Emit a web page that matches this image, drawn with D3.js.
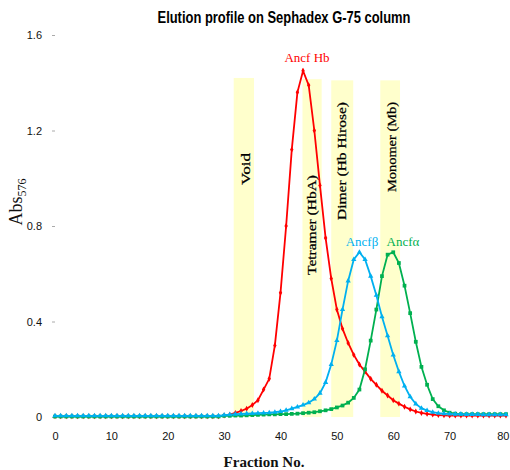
<!DOCTYPE html>
<html>
<head>
<meta charset="UTF-8">
<style>
  body { margin: 0; background: #fff; }
  svg { display: block; }
  .tick text { font-family: "Liberation Sans Narrow", "Liberation Sans", sans-serif; font-size: 11px; fill: #111; }
</style>
</head>
<body>
<div id="chart"></div>
<script src="https://cdn.jsdelivr.net/npm/d3@7"></script>
<script>
// fraction numbers (x)
var fractions = [0,1,2,3,4,5,6,7,8,9,10,11,12,13,14,15,16,17,18,19,20,21,22,23,24,25,26,27,28,29,
  30,31,32,33,34,35,36,37,38,39,40,41,42,43,44,45,46,47,48,49,50,51,52,53,54,55,56,57,58,59,
  60,61,62,63,64,65,66,67,68,69,70,71,72,73,74,75,76,77,78,79,80];

// Ancf Hb (red)
var ancfHb = [0.003,0.003,0.003,0.003,0.003,0.003,0.003,0.003,0.003,0.003,0.003,0.003,0.003,0.003,0.003,
  0.003,0.003,0.003,0.003,0.003,0.003,0.003,0.003,0.003,0.003,0.003,0.003,0.003,0.003,0.003,
  0.006,0.01,0.017,0.025,0.035,0.05,0.07,0.115,0.16,0.3,0.52,0.8,1.12,1.36,1.45,1.39,1.2,0.97,0.75,0.58,
  0.45,0.37,0.31,0.26,0.22,0.19,0.16,0.135,0.11,0.09,0.07,0.056,0.043,0.032,0.023,0.017,0.013,0.01,0.008,0.007,
  0.006,0.006,0.006,0.006,0.006,0.006,0.006,0.006,0.006,0.006,0.006];

// Ancf beta (blue)
var ancfBeta = [0.005,0.005,0.005,0.005,0.005,0.005,0.005,0.005,0.005,0.005,0.005,0.005,0.005,0.005,0.005,
  0.005,0.005,0.005,0.005,0.005,0.005,0.005,0.005,0.005,0.005,0.005,0.005,0.005,0.005,0.005,
  0.008,0.01,0.012,0.013,0.014,0.015,0.016,0.017,0.018,0.02,0.023,0.028,0.035,0.042,0.05,0.06,0.075,0.1,0.145,0.22,
  0.32,0.45,0.57,0.66,0.69,0.66,0.59,0.51,0.42,0.34,0.26,0.19,0.13,0.085,0.055,0.037,0.027,0.02,0.016,0.014,
  0.013,0.012,0.012,0.011,0.011,0.011,0.01,0.01,0.01,0.01,0.01];

// Ancf alpha (green)
var ancfAlpha = [0.002,0.002,0.002,0.002,0.002,0.002,0.002,0.002,0.002,0.002,0.002,0.002,0.002,0.002,0.002,
  0.002,0.002,0.002,0.002,0.002,0.002,0.002,0.002,0.002,0.002,0.002,0.002,0.002,0.002,0.002,
  0.005,0.005,0.006,0.006,0.007,0.008,0.009,0.01,0.011,0.011,0.012,0.012,0.013,0.014,0.016,0.018,0.02,0.024,0.028,0.033,
  0.04,0.048,0.06,0.08,0.115,0.2,0.32,0.45,0.59,0.68,0.69,0.645,0.55,0.435,0.315,0.21,0.135,0.075,0.045,0.028,
  0.018,0.014,0.012,0.012,0.012,0.012,0.012,0.012,0.012,0.012,0.012];

// shaded fraction ranges
var bandNames = ["Void", "Tetramer (HbA)", "Dimer (Hb Hirose)", "Monomer (Mb)"];
var bandStart = [31.7, 43.9, 49.0, 57.7];
var bandEnd = [35.3, 47.3, 52.9, 61.2];
var bandTop = [1.42, 1.415, 1.41, 1.41];

var xTicks = [0,10,20,30,40,50,60,70,80];
var yTicks = [0,0.4,0.8,1.2,1.6];

var width = 510, height = 470;

var svg = d3.select("#chart").append("svg")
  .attr("width", width)
  .attr("height", height);

var x = d3.scaleLinear().domain([0, 80]).range([55, 506]);
var y = d3.scaleLinear().domain([0, 1.6]).range([417, 35]);

// bands
var bands = bandNames.map(function(n, i) {
  return { name: n, x0: bandStart[i], x1: bandEnd[i], top: bandTop[i] };
});

svg.append("g").selectAll("rect")
  .data(bands)
  .enter().append("rect")
  .attr("x", d => x(d.x0))
  .attr("width", d => x(d.x1) - x(d.x0))
  .attr("y", d => y(d.top))
  .attr("height", d => y(0) - y(d.top))
  .attr("fill", "#ffffcc");

// band labels, rotated
var bandLabelPos = [[245, 169, 32], [311, 225, 100], [341, 161, 118], [391, 147, 90]];
svg.append("g").selectAll("text")
  .data(bands)
  .enter().append("text")
  .attr("transform", (d, i) => "translate(" + bandLabelPos[i][0] + "," + bandLabelPos[i][1] + ") rotate(-90)")
  .attr("text-anchor", "middle")
  .attr("dy", "0.35em")
  .attr("textLength", (d, i) => bandLabelPos[i][2])
  .attr("lengthAdjust", "spacingAndGlyphs")
  .style("font-family", "'Liberation Serif', 'DejaVu Serif', serif")
  .style("font-size", "13px")
  .style("fill", "#000")
  .style("stroke", "#000")
  .style("stroke-width", 0.25)
  .text(d => d.name);

// axes
var xAxis = svg.append("g")
  .attr("transform", "translate(0," + 420 + ")")
  .call(d3.axisBottom(x).tickValues(xTicks).tickSize(0).tickPadding(12).tickFormat(d3.format("d")));
xAxis.select(".domain").remove();
xAxis.selectAll(".tick text").filter(d => d === 80)
  .attr("text-anchor", "end").attr("dx", 3);

var yAxis = svg.append("g")
  .attr("transform", "translate(" + 55 + ",0)")
  .call(d3.axisLeft(y).tickValues(yTicks).tickSize(3).tickPadding(10).tickFormat(d => d === 0 ? "0" : d3.format(".1f")(d)));
yAxis.select(".domain").remove();
yAxis.selectAll(".tick line").attr("stroke", "#aaa");

// series
var series = [
  { name: "Ancf Hb", values: ancfHb, color: "#ff0000", symbol: d3.symbolDiamond, size: 10 },
  { name: "Ancf\u03b2", values: ancfBeta, color: "#00b0f0", symbol: d3.symbolTriangle, size: 12 },
  { name: "Ancf\u03b1", values: ancfAlpha, color: "#00b050", symbol: d3.symbolSquare, size: 14 }
];
var drawOrder = [series[0], series[2], series[1]];

var line = d3.line()
  .x((d, i) => x(fractions[i]))
  .y(d => y(d));

drawOrder.forEach(function(s) {
  svg.append("path")
    .datum(s.values)
    .attr("fill", "none")
    .attr("stroke", s.color)
    .attr("stroke-width", 1.8)
    .attr("d", line);
  svg.append("g").selectAll("path")
    .data(s.values)
    .enter().append("path")
    .attr("transform", (d, i) => "translate(" + x(fractions[i]) + "," + y(d) + ")")
    .attr("d", d3.symbol().type(s.symbol).size(s.size))
    .attr("fill", s.color);
});

// peak labels
var peakLabels = [
  { text: "Ancf Hb", color: "#ff0000", px: 307, py: 57 },
  { text: "Ancf\u03b2", color: "#00b0f0", px: 362, py: 241 },
  { text: "Ancf\u03b1", color: "#00b050", px: 403, py: 241 }
];
svg.append("g").selectAll("text")
  .data(peakLabels)
  .enter().append("text")
  .attr("x", d => d.px)
  .attr("y", d => d.py)
  .attr("dy", "0.35em")
  .attr("text-anchor", "middle")
  .style("font-family", "'Liberation Serif', 'DejaVu Serif', serif")
  .style("font-size", "13px")
  .style("fill", d => d.color)
  .text(d => d.text);

// title
svg.append("text")
  .attr("x", 284)
  .attr("y", 23)
  .attr("text-anchor", "middle")
  .attr("textLength", 253)
  .attr("lengthAdjust", "spacingAndGlyphs")
  .style("font-family", "'Liberation Sans Narrow', 'Liberation Sans', sans-serif")
  .style("font-weight", "bold")
  .style("font-size", "16px")
  .style("fill", "#000")
  .text("Elution profile on Sephadex G-75 column");

// x axis title
svg.append("text")
  .attr("x", 264)
  .attr("y", 467)
  .attr("text-anchor", "middle")
  .style("font-family", "'Liberation Serif', 'DejaVu Serif', serif")
  .style("font-weight", "bold")
  .style("font-size", "15px")
  .style("fill", "#111")
  .text("Fraction No.");

// y axis title with subscript
var yt = svg.append("text")
  .attr("transform", "translate(22,202) rotate(-90)")
  .attr("text-anchor", "middle")
  .style("font-family", "'Liberation Serif', 'DejaVu Serif', serif")
  .style("font-size", "18px")
  .style("fill", "#111");
yt.append("tspan").text("Abs");
yt.append("tspan").attr("dy", 4).style("font-size", "12px").text("576");
</script>
</body>
</html>
